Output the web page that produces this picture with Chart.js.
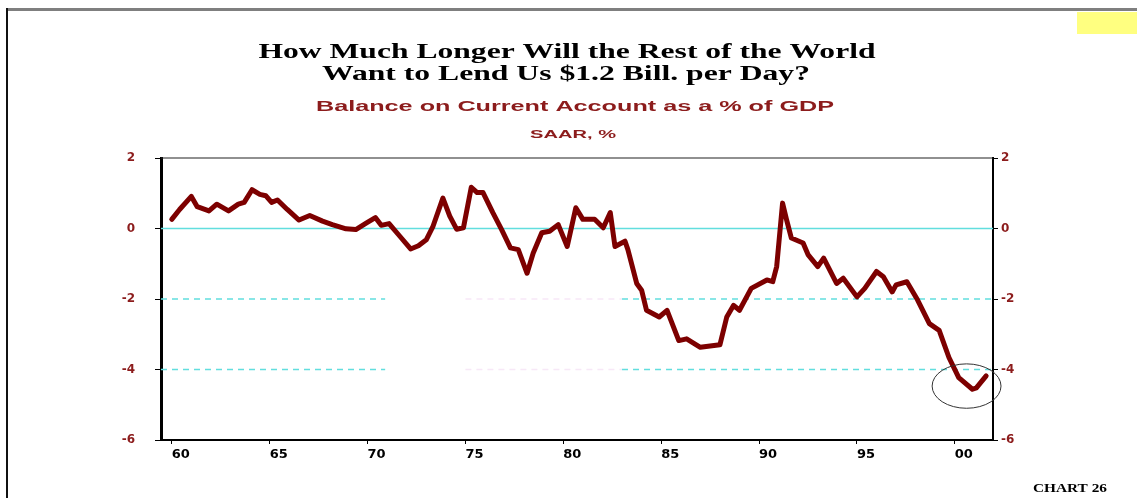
<!DOCTYPE html>
<html>
<head>
<meta charset="utf-8">
<title>Current Account Balance</title>
<script src="https://cdn.jsdelivr.net/npm/chart.js@4/dist/chart.umd.min.js"></script>
<style>
    html, body { margin: 0; padding: 0; background: #fff; }
    #wrap { position: relative; width: 1137px; height: 498px; overflow: hidden; }
    #c { position: absolute; left: 0; top: 0; }
    .topbar { position: absolute; left: 6px; top: 8px; width: 1131px; height: 3px; background: #7f7f7f; }
    .leftbar { position: absolute; left: 6px; top: 8px; width: 2px; height: 490px; background: #111; }
    .tag { position: absolute; left: 1077px; top: 12px; width: 60px; height: 22px; background: #ffff80; }
</style>
</head>
<body>
<div id="wrap">
    <canvas id="c" width="1137" height="498"></canvas>
    <div class="topbar"></div>
    <div class="leftbar"></div>
    <div class="tag"></div>
</div>
<script>
// current account balance, % of GDP (year, value)
const years = [
    1960.0, 1960.4, 1961.0, 1961.3, 1961.9, 1962.3, 1962.9, 1963.4, 1963.7, 1964.1,
    1964.5, 1964.8, 1965.1, 1965.4, 1965.9, 1966.5, 1967.05, 1967.7, 1968.2, 1968.9,
    1969.4, 1969.95, 1970.4, 1970.7, 1971.1, 1971.65, 1972.2, 1972.6, 1973.0, 1973.35,
    1973.85, 1974.2, 1974.55, 1974.9, 1975.3, 1975.6, 1975.9, 1976.4, 1976.85, 1977.3,
    1977.7, 1978.15, 1978.46, 1978.9, 1979.3, 1979.74, 1980.2, 1980.64, 1981.0, 1981.6,
    1982.04, 1982.4, 1982.64, 1983.15, 1983.3, 1983.75, 1984.0, 1984.25, 1984.9, 1985.3,
    1985.9, 1986.3, 1987.0, 1988.0, 1988.35, 1988.7, 1989.0, 1989.6, 1990.4, 1990.7,
    1990.9, 1991.2, 1991.4, 1991.65, 1992.25, 1992.5, 1993.0, 1993.3, 1993.96, 1994.3,
    1995.0, 1995.4, 1996.0, 1996.35, 1996.8, 1997.0, 1997.55, 1998.1, 1998.7, 1999.2,
    1999.7, 2000.2, 2000.9, 2001.1, 2001.6
];
const balance = [
    0.26, 0.54, 0.91, 0.62, 0.50, 0.69, 0.50, 0.69, 0.74, 1.10,
    0.97, 0.93, 0.74, 0.81, 0.54, 0.24, 0.37, 0.21, 0.11, -0.01,
    -0.03, 0.16, 0.31, 0.09, 0.14, -0.22, -0.58, -0.49, -0.32, 0.07,
    0.86, 0.35, -0.02, 0.02, 1.17, 1.02, 1.02, 0.45, -0.03, -0.55,
    -0.60, -1.27, -0.70, -0.12, -0.08, 0.11, -0.51, 0.59, 0.26, 0.26,
    0.02, 0.45, -0.51, -0.36, -0.60, -1.56, -1.75, -2.32, -2.51, -2.32,
    -3.18, -3.13, -3.37, -3.30, -2.51, -2.18, -2.32, -1.70, -1.46, -1.51,
    -1.08, 0.72, 0.26, -0.27, -0.41, -0.74, -1.08, -0.84, -1.56, -1.41,
    -1.94, -1.70, -1.22, -1.37, -1.80, -1.60, -1.51, -2.03, -2.70, -2.89,
    -3.66, -4.23, -4.56, -4.52, -4.18
];

const xTicks = [1960, 1965, 1970, 1975, 1980, 1985, 1990, 1995, 2000];
const yTicks = [-6, -4, -2, 0, 2];
const dashedLevels = [-2, -4];

const titleLines = ['How Much Longer Will the Rest of the World', 'Want to Lend Us $1.2 Bill. per Day?'];
const subtitle = 'Balance on Current Account as a % of GDP';
const unitsLabel = 'SAAR, %';
const chartTag = 'CHART 26';

const RED = '#8c1c1c';
const LINE = '#7d0000';
const CYAN = '#62dede';

// text squeezed/stretched horizontally to a given width
function drawWide(ctx, text, cx, y, font, width, color) {
    ctx.save();
    ctx.font = font;
    ctx.fillStyle = color;
    ctx.textAlign = 'center';
    ctx.textBaseline = 'alphabetic';
    const sx = width / ctx.measureText(text).width;
    ctx.translate(cx, y);
    ctx.scale(sx, 1);
    ctx.fillText(text, 0, 0);
    ctx.restore();
}

const decorations = {
    id: 'decorations',
    beforeDatasetsDraw(chart) {
        const { ctx, chartArea: a, scales } = chart;
        const x = scales.x, y = scales.y;
        ctx.save();
        // zero line
        ctx.strokeStyle = CYAN;
        ctx.lineWidth = 1.5;
        ctx.beginPath();
        ctx.moveTo(a.left, y.getPixelForValue(0));
        ctx.lineTo(a.right, y.getPixelForValue(0));
        ctx.stroke();
        // dashed reference levels, broken in the middle
        ctx.setLineDash([6, 5]);
        dashedLevels.forEach(v => {
            const py = y.getPixelForValue(v);
            ctx.strokeStyle = CYAN;
            ctx.beginPath();
            ctx.moveTo(a.left, py);
            ctx.lineTo(x.getPixelForValue(1970.9), py);
            ctx.moveTo(x.getPixelForValue(1983.0), py);
            ctx.lineTo(a.right, py);
            ctx.stroke();
            ctx.strokeStyle = '#f7e8f7';
            ctx.beginPath();
            ctx.moveTo(x.getPixelForValue(1975.0), py);
            ctx.lineTo(x.getPixelForValue(1983.0), py);
            ctx.stroke();
        });
        ctx.restore();
    },
    afterDraw(chart) {
        const { ctx, chartArea: a, scales } = chart;
        const x = scales.x, y = scales.y;
        ctx.save();
        // top frame line
        ctx.strokeStyle = '#222';
        ctx.lineWidth = 1.2;
        ctx.beginPath();
        ctx.moveTo(a.left, a.top);
        ctx.lineTo(a.right, a.top);
        ctx.stroke();
        // circle round the latest readings
        const cx = x.getPixelForValue(2000.6), cy = y.getPixelForValue(-4.47);
        const rx = x.getPixelForValue(2000.6 + 1.76) - cx;
        const ry = y.getPixelForValue(-4.47 - 0.63) - cy;
        ctx.strokeStyle = '#333';
        ctx.lineWidth = 1;
        ctx.beginPath();
        ctx.ellipse(cx, cy, rx, ry, 0, 0, Math.PI * 2);
        ctx.stroke();
        ctx.restore();

        drawWide(ctx, titleLines[0], 567, 58, 'bold 21px "Liberation Serif"', 617, '#000');
        drawWide(ctx, titleLines[1], 566, 80, 'bold 21px "Liberation Serif"', 488, '#000');
        drawWide(ctx, subtitle, 575, 111, 'bold 14px "Liberation Sans"', 518, RED);
        drawWide(ctx, unitsLabel, 573, 138, 'bold 11px "Liberation Sans"', 86, RED);
        drawWide(ctx, chartTag, 1070, 492, 'bold 12px "Liberation Serif"', 74, '#000');
    }
};

const yFont = { family: 'DejaVu Sans', size: 12, weight: 'bold' };
const xFont = { family: 'DejaVu Sans', size: 13, weight: 'bold' };

new Chart(document.getElementById('c'), {
    type: 'line',
    data: {
        datasets: [{
            data: years.map((yr, i) => ({ x: yr, y: balance[i] })),
            borderColor: LINE,
            borderWidth: 5,
            borderJoinStyle: 'round',
            borderCapStyle: 'round',
            pointRadius: 0,
            tension: 0,
            fill: false
        }]
    },
    options: {
        responsive: false,
        animation: false,
        devicePixelRatio: 1,
        layout: { padding: { top: 158, left: 0, right: 0, bottom: 0 } },
        plugins: {
            legend: { display: false },
            title: { display: false },
            tooltip: { enabled: false }
        },
        scales: {
            x: {
                type: 'linear',
                position: 'bottom',
                min: 1959.45,
                max: 2001.95,
                afterBuildTicks: s => { s.ticks = xTicks.map(v => ({ value: v })); },
                afterFit: s => { s.height = 58; },
                grid: { drawOnChartArea: false, drawTicks: true, tickLength: 4, color: '#000' },
                border: { display: true, color: '#000', width: 2 },
                ticks: {
                    align: 'start',
                    padding: 3,
                    color: '#000',
                    font: xFont,
                    maxRotation: 0,
                    callback: v => String(v % 100).padStart(2, '0')
                }
            },
            y: {
                position: 'left',
                min: -6,
                max: 2,
                afterBuildTicks: s => { s.ticks = yTicks.map(v => ({ value: v })); },
                afterFit: s => { s.width = 161; },
                grid: { drawOnChartArea: false, drawTicks: true, tickLength: 6, color: '#000' },
                border: { display: true, color: '#000', width: 3 },
                ticks: { padding: 20, color: RED, font: yFont }
            },
            y2: {
                position: 'right',
                min: -6,
                max: 2,
                afterBuildTicks: s => { s.ticks = yTicks.map(v => ({ value: v })); },
                afterFit: s => { s.width = 144; },
                grid: { drawOnChartArea: false, drawTicks: true, tickLength: 5, color: '#000' },
                border: { display: true, color: '#000', width: 2 },
                ticks: { padding: 3, color: RED, font: yFont }
            }
        }
    },
    plugins: [decorations]
});
</script>
</body>
</html>
